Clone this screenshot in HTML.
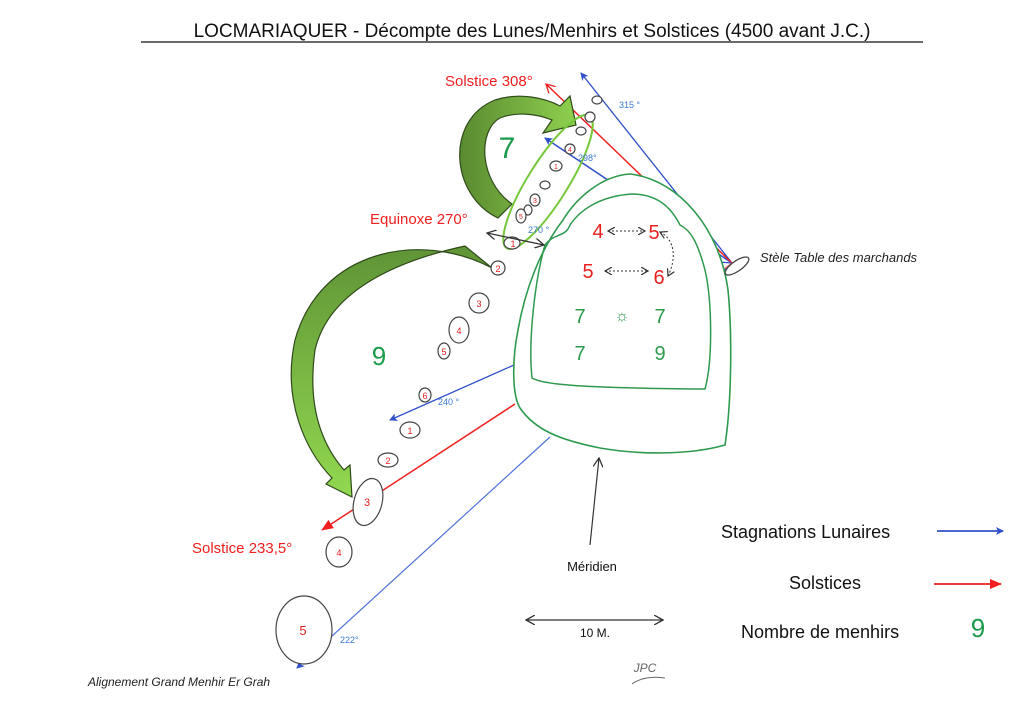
<!DOCTYPE html>
<html><head><meta charset="utf-8"><style>
html,body{margin:0;padding:0;background:#fff;}
svg{display:block;font-family:"Liberation Sans",sans-serif;}
</style></head><body>
<svg width="1024" height="707" viewBox="0 0 1024 707" xmlns="http://www.w3.org/2000/svg">
<defs>
<marker id="ab" markerWidth="8" markerHeight="8" refX="7" refY="4" orient="auto" markerUnits="userSpaceOnUse"><path d="M0,0 L8,4 L0,8 L2,4z" fill="#3050c8"/></marker>
<marker id="ar" markerWidth="12" markerHeight="10" refX="11" refY="5" orient="auto" markerUnits="userSpaceOnUse"><path d="M0,0 L12,5 L0,10z" fill="#f02020"/></marker>
<marker id="ar2" markerWidth="10" markerHeight="10" refX="9" refY="5" orient="auto" markerUnits="userSpaceOnUse"><path d="M0,0 L9,5 L0,10" fill="none" stroke="#f02020" stroke-width="1.3"/></marker>
<marker id="ak" markerWidth="10" markerHeight="10" refX="9" refY="5" orient="auto-start-reverse" markerUnits="userSpaceOnUse"><path d="M0,0 L9,5 L0,10" fill="none" stroke="#333" stroke-width="1.3"/></marker>
<marker id="akd" markerWidth="8" markerHeight="8" refX="7" refY="4" orient="auto-start-reverse" markerUnits="userSpaceOnUse"><path d="M0,0 L7,4 L0,8" fill="none" stroke="#333" stroke-width="1.2"/></marker>
<linearGradient id="g1" x1="0" y1="0" x2="1" y2="0"><stop offset="0" stop-color="#5a8a30"/><stop offset="1" stop-color="#8ed04e"/></linearGradient>
<linearGradient id="g2" x1="0" y1="0" x2="0" y2="1"><stop offset="0" stop-color="#5f9436"/><stop offset="1" stop-color="#92d850"/></linearGradient>
</defs>

<text x="532" y="37" text-anchor="middle" font-size="19" fill="#111">LOCMARIAQUER -  Décompte des Lunes/Menhirs et Solstices (4500 avant J.C.)</text>
<line x1="141" y1="42" x2="923" y2="42" stroke="#111" stroke-width="1.2"/>

<line x1="732" y1="263" x2="581" y2="73" stroke="#3050c8" stroke-width="1.3" marker-end="url(#ab)"/>
<line x1="732" y1="263" x2="545" y2="138" stroke="#3050c8" stroke-width="1.5" marker-end="url(#ab)"/>
<line x1="732" y1="263" x2="546" y2="84" stroke="#f02020" stroke-width="1.5" marker-end="url(#ar2)"/>
<line x1="732" y1="263" x2="705" y2="261" stroke="#3050c8" stroke-width="1.3"/>
<line x1="732" y1="263" x2="710" y2="283" stroke="#3050c8" stroke-width="1.3"/>
<line x1="732" y1="263" x2="712" y2="278" stroke="#f07070" stroke-width="1.2"/>

<line x1="514" y1="365" x2="390" y2="420" stroke="#3050c8" stroke-width="1.3" marker-end="url(#ab)"/>
<line x1="515" y1="404" x2="322" y2="530" stroke="#f02020" stroke-width="1.5" marker-end="url(#ar)"/>
<line x1="550" y1="437" x2="297" y2="668" stroke="#5070d8" stroke-width="1.2" marker-end="url(#ab)"/>

<path d="M630,174 C600,176 575,200 563,220 C540,250 525,290 518,330 C512,360 512,395 520,408 C535,430 560,440 600,448 C640,455 690,455 725,445 C732,400 732,330 728,290 C720,230 680,180 630,174 Z" fill="#fff" stroke="#2e9a4e" stroke-width="1.6"/>
<path d="M632,194 C600,196 580,210 570,225 C565,238 555,232 545,245 C535,280 528,340 532,378 C545,386 600,388 705,389 C713,360 712,300 705,270 C697,240 690,230 680,225 C670,205 655,194 632,194 Z" fill="none" stroke="#2e9a4e" stroke-width="1.5"/>

<ellipse cx="737" cy="266" rx="14" ry="5" transform="rotate(-35 737 266)" fill="#fff" stroke="#444" stroke-width="1.3"/>
<text x="760" y="262" font-size="13" font-style="italic" fill="#222">Stèle Table des marchands</text>

<!-- green arrows -->
<path d="M498,218 C450,195 445,120 495,100 C520,92 545,98 560,106 L570,96 L576,125 L543,133 L552,120 C535,113 515,112 500,118 C478,130 478,180 512,204 Z" fill="url(#g1)" stroke="#2f4a1a" stroke-width="1.2"/>
<path d="M492,268 C420,230 320,250 295,340 C282,400 305,450 332,478 L326,484 L352,497 L350,465 L344,470 C318,440 308,400 315,350 C330,285 410,258 465,246 Z" fill="url(#g2)" stroke="#2f4a1a" stroke-width="1.2"/>

<ellipse cx="548" cy="182" rx="78" ry="20" transform="rotate(-58 548 182)" fill="none" stroke="#76c83a" stroke-width="2"/>

<g fill="#fff" stroke="#444" stroke-width="1.2">
<ellipse cx="597" cy="100" rx="5" ry="4"/>
<ellipse cx="590" cy="117" rx="5" ry="5"/>
<ellipse cx="581" cy="131" rx="5" ry="4"/>
<ellipse cx="570" cy="149" rx="5" ry="5"/>
<ellipse cx="556" cy="166" rx="6" ry="5"/>
<ellipse cx="545" cy="185" rx="5" ry="4"/>
<ellipse cx="535" cy="200" rx="5" ry="6"/>
<ellipse cx="528" cy="210" rx="4" ry="5"/>
<ellipse cx="521" cy="216" rx="5" ry="7"/>
<ellipse cx="512" cy="243" rx="8" ry="6"/>
<ellipse cx="498" cy="268" rx="7" ry="7"/>
<ellipse cx="479" cy="303" rx="10" ry="10"/>
<ellipse cx="459" cy="330" rx="10" ry="13"/>
<ellipse cx="444" cy="351" rx="6" ry="8"/>
<ellipse cx="425" cy="395" rx="6" ry="7"/>
<ellipse cx="410" cy="430" rx="10" ry="8"/>
<ellipse cx="388" cy="460" rx="10" ry="7"/>
<ellipse cx="368" cy="502" rx="14" ry="24" transform="rotate(15 368 502)"/>
<ellipse cx="339" cy="552" rx="13" ry="15"/>
<ellipse cx="304" cy="630" rx="28" ry="34"/>
</g>
<g fill="#e02020" font-size="9" text-anchor="middle">
<text x="513" y="247">1</text><text x="498" y="272">2</text><text x="479" y="307">3</text>
<text x="459" y="334">4</text><text x="444" y="355">5</text><text x="425" y="399">6</text>
<text x="410" y="434">1</text><text x="388" y="464">2</text><text x="367" y="506" font-size="11">3</text>
<text x="339" y="556">4</text><text x="303" y="635" font-size="13">5</text>
<text x="521" y="219" font-size="7">5</text><text x="535" y="203" font-size="7">3</text>
<text x="556" y="169" font-size="7">1</text><text x="570" y="152" font-size="7">4</text>
</g>

<g font-size="20" text-anchor="middle">
<text x="598" y="238" fill="#e82020">4</text>
<text x="654" y="239" fill="#e82020">5</text>
<text x="588" y="278" fill="#e82020">5</text>
<text x="659" y="284" fill="#e82020">6</text>
<text x="580" y="323" fill="#2e9a4e">7</text>
<text x="660" y="323" fill="#2e9a4e">7</text>
<text x="580" y="360" fill="#2e9a4e">7</text>
<text x="660" y="360" fill="#2e9a4e">9</text>
</g>
<text x="622" y="321" text-anchor="middle" font-size="16" fill="#2e9a4e">☼</text>
<line x1="608" y1="231" x2="645" y2="231" stroke="#333" stroke-dasharray="2,2" marker-start="url(#akd)" marker-end="url(#akd)"/>
<line x1="605" y1="271" x2="648" y2="271" stroke="#333" stroke-dasharray="2,2" marker-start="url(#akd)" marker-end="url(#akd)"/>
<path d="M660,232 C676,240 676,260 668,276" fill="none" stroke="#333" stroke-dasharray="2,2" marker-start="url(#akd)" marker-end="url(#akd)"/>

<text x="445" y="86" font-size="15" fill="#f02020">Solstice 308°</text>
<text x="619" y="108" font-size="9" fill="#3a78d0">315 °</text>
<text x="578" y="161" font-size="9" fill="#3a78d0">298°</text>
<text x="528" y="233" font-size="9" fill="#3a78d0">270 °</text>
<text x="438" y="405" font-size="9" fill="#3a78d0">240 °</text>
<text x="340" y="643" font-size="9" fill="#3a78d0">222°</text>
<text x="370" y="224" font-size="15" fill="#f02020">Equinoxe 270°</text>
<text x="192" y="553" font-size="15" fill="#f02020">Solstice 233,5°</text>
<text x="507" y="158" font-size="30" fill="#1a9a4a" text-anchor="middle">7</text>
<text x="379" y="365" font-size="26" fill="#1a9a4a" text-anchor="middle">9</text>
<line x1="487" y1="233" x2="544" y2="245" stroke="#333" stroke-width="1.3" marker-start="url(#ak)" marker-end="url(#ak)"/>

<text x="88" y="686" font-size="12" font-style="italic" fill="#222">Alignement Grand Menhir Er Grah</text>

<line x1="590" y1="545" x2="599" y2="458" stroke="#333" stroke-width="1.2" marker-end="url(#ak)"/>
<text x="592" y="571" font-size="13" text-anchor="middle" fill="#111">Méridien</text>
<line x1="526" y1="620" x2="663" y2="620" stroke="#333" stroke-width="1.2" marker-start="url(#ak)" marker-end="url(#ak)"/>
<text x="595" y="637" font-size="12" text-anchor="middle" fill="#111">10 M.</text>
<text x="645" y="672" font-size="12" text-anchor="middle" fill="#666" font-style="italic">JPC</text>
<path d="M632,684 C640,678 652,676 665,678" fill="none" stroke="#666" stroke-width="1"/>

<text x="721" y="538" font-size="18" fill="#111">Stagnations Lunaires</text>
<line x1="937" y1="531" x2="1003" y2="531" stroke="#3050c8" stroke-width="1.8" marker-end="url(#ab)"/>
<text x="789" y="589" font-size="18" fill="#111">Solstices</text>
<line x1="934" y1="584" x2="1001" y2="584" stroke="#f02020" stroke-width="1.8" marker-end="url(#ar)"/>
<text x="741" y="638" font-size="18" fill="#111">Nombre de menhirs</text>
<text x="978" y="637" font-size="26" fill="#1a9a4a" text-anchor="middle">9</text>
</svg>
</body></html>
